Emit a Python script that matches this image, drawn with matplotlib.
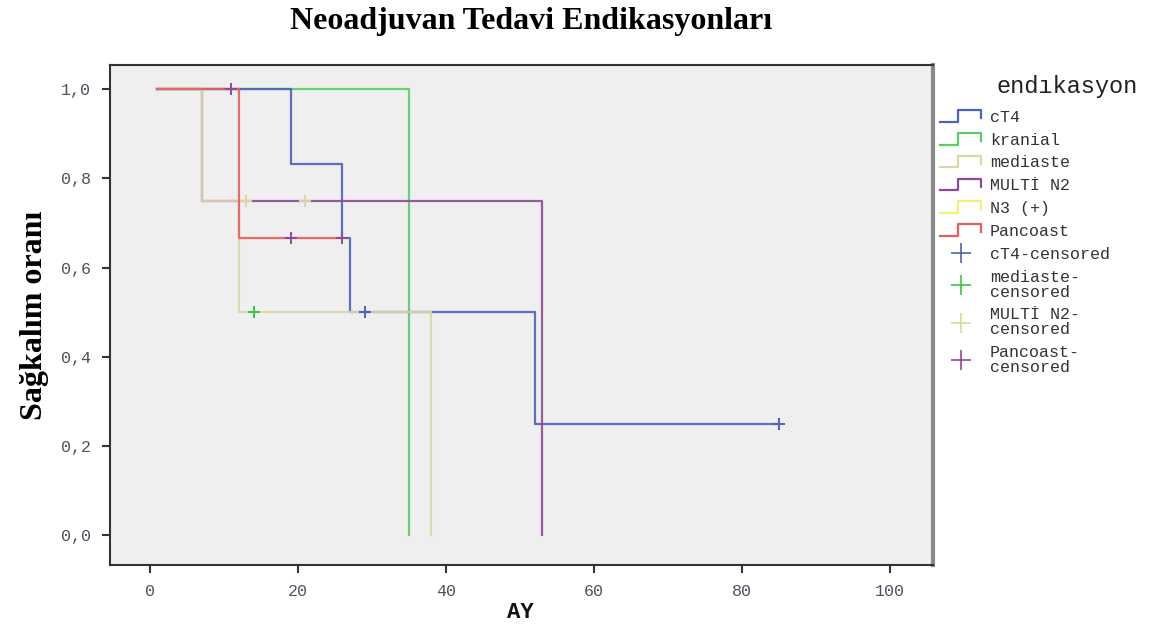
import numpy as np
import matplotlib
matplotlib.use('Agg')
import matplotlib.pyplot as plt
from matplotlib.lines import Line2D
from matplotlib.legend_handler import HandlerBase

# Kaplan-Meier steps: (time, survival) after each step
groups = ['cT4', 'kranial', 'mediaste', 'MULTİ N2', 'N3 (+)', 'Pancoast']
colors = ['#4a62c0', '#5ccb6c', '#dcd6a6', '#8e4a94', '#f2ef7a', '#ea5c5c']
times = {
    'cT4':      [1, 19, 26, 27, 52, 85],
    'kranial':  [1, 35, 35],
    'mediaste': [1, 7, 12, 38, 38],
    'MULTİ N2': [1, 7, 53, 53],
    'N3 (+)':   [1, 12],
    'Pancoast': [1, 12, 26],
}
surv = {
    'cT4':      [1.0, 0.833, 0.667, 0.5, 0.25, 0.25],
    'kranial':  [1.0, 0.0, 0.0],
    'mediaste': [1.0, 0.75, 0.5, 0.0, 0.0],
    'MULTİ N2': [1.0, 0.75, 0.0, 0.0],
    'N3 (+)':   [1.0, 1.0],
    'Pancoast': [1.0, 0.667, 0.667],
}
# censored marks
cens_labels = ['cT4-censored', 'mediaste-\ncensored', 'MULTİ N2-\ncensored', 'Pancoast-\ncensored']
cens_colors = ['#4a62c0', '#3cc44c', '#dcd6a6', '#8e4a94']
cens_x = [[29, 85], [14], [13, 21], [11, 19, 26]]
cens_y = [[0.5, 0.25], [0.5], [0.75, 0.75], [1.0, 0.667, 0.667]]

draw_order = ['N3 (+)', 'kranial', 'cT4', 'MULTİ N2', 'mediaste', 'Pancoast']

fig = plt.figure(figsize=(11.69, 6.28), dpi=100)
ax = fig.add_axes([0.0941, 0.1003, 0.704, 0.7962])
ax.set_facecolor('#efefef')

for g in draw_order:
    c = colors[groups.index(g)]
    ax.step(times[g], surv[g], where='post', color=c, lw=1.6, alpha=0.9)

for lab, c, xs, ys in zip(cens_labels, cens_colors, cens_x, cens_y):
    ax.plot(xs, ys, ls='none', marker='+', ms=9, mew=1.4, color=c)

ax.set_xlim(-5.4, 105.8)
ax.set_ylim(-0.067, 1.054)
ax.set_xticks([0, 20, 40, 60, 80, 100])
ax.set_yticks([0, 0.2, 0.4, 0.6, 0.8, 1.0])
ax.set_yticklabels(['0,0', '0,2', '0,4', '0,6', '0,8', '1,0'])
for lbl in ax.get_xticklabels() + ax.get_yticklabels():
    lbl.set_family('Liberation Mono')
    lbl.set_fontsize(12)
    lbl.set_color('#505060')
ax.tick_params(direction='out', length=6, width=1.5, color='#333333', pad=8)
for s in ax.spines.values():
    s.set_linewidth(1.5)
    s.set_color('#333333')
ax.spines['right'].set_color('#888888')
ax.spines['right'].set_linewidth(3)

ax.set_ylabel('Sağkalım oranı', family='Liberation Serif', fontweight='bold', fontsize=23, labelpad=8)
fig.text(0.445, 0.025, 'AY', ha='center', va='center',
         family='Liberation Mono', fontweight='bold', fontsize=16, color='#111111')
fig.text(0.454, 0.966, 'Neoadjuvan Tedavi Endikasyonları', ha='center', va='center',
         family='Liberation Serif', fontweight='bold', fontsize=23)


class StepHandler(HandlerBase):
    def create_artists(self, legend, orig_handle, xd, yd, width, height, fontsize, trans):
        x0, x1 = -xd, -xd + width
        xs = [x0, x0 + 0.45 * width, x0 + 0.45 * width, x1, x1]
        ys = [0, 0, height, height, height * 0.3]
        ln = Line2D(xs, ys, color=orig_handle.get_color(), lw=1.6, transform=trans)
        return [ln]


handles = [Line2D([], [], color=c) for c in colors]
labels = list(groups)
for lab, c in zip(cens_labels, cens_colors):
    handles.append(Line2D([], [], ls='none', marker='+', ms=15, mew=1.2, color=c))
    labels.append(lab)

fig.text(0.913, 0.862, 'endıkasyon', ha='center', va='center',
         family='Liberation Mono', fontsize=17, color='#222222')

hmap = {h: StepHandler() for h in handles[:6]}
leg = fig.legend(handles, labels, handler_map=hmap, loc='upper left',
                 bbox_to_anchor=(0.791, 0.849), frameon=False,
                 prop={'family': 'Liberation Mono', 'size': 12},
                 handlelength=2.5, handletextpad=0.5,
                 labelspacing=0.47)
for t in leg.get_texts():
    t.set_color('#333333')
    t.set_linespacing(1.0)

fig.savefig('out.png', dpi=100)
